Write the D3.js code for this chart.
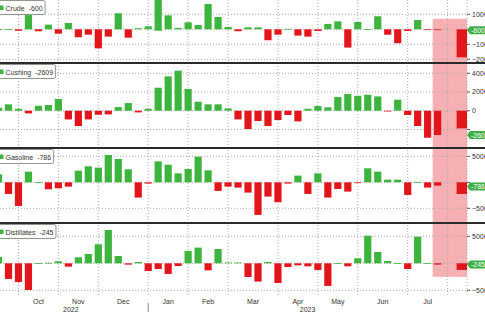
<!DOCTYPE html>
<html>
<head>
<meta charset="utf-8">
<script src="https://cdn.jsdelivr.net/npm/d3@7"></script>
<style>
body { margin: 0; background: #fff; }
svg { display: block; font-family: "Liberation Sans Narrow", "Arial Narrow", "Liberation Sans", Arial, sans-serif; }
</style>
</head>
<body>
<svg width="485" height="312"></svg>
<script>
// weekly changes (week ending Friday), first week partly off the left edge
const weeks = d3.timeFriday.range(new Date(2022, 8, 23), new Date(2023, 7, 12));

const crude = [100, 100, -1000, 9500, -1300, 3100, -2900, 4200, -5300, -3600, -12700, -4900, 10700, -5600, 700, 2000,
  20500, 9300, 900, 4700, 2900, 16900, 8200, 1600, -1300, 1300, 1300, -7300, -3600, 300, -4200, -4900, -1100, 3600,
  5300, -12200, 4900, 200, 8700, -3600, -9300, -1100, 6200, -400, -300, null, -18700];
const cushing = [320, 680, 210, -290, 530, 610, 1250, -930, -1640, -930, -430, -390, 390, 820, -180, 210,
  2460, 3670, 4280, 2320, 960, 680, 680, 250, -930, -1960, -1100, -1640, -1000, -460, -1140, 210, 500, 360,
  1460, 1780, 1600, 1710, 1530, -60, 1180, -460, -1640, -2890, -2600, null, -1890];
const gasoline = [1540, -2240, -4550, 2050, 40, -1340, -1150, -830, 2240, 3070, 2820, 5250, 4480, 2500, -2940, -250,
  4030, 3390, 1730, 2560, 4930, 2300, -1660, -830, -1020, -1980, -6270, -2750, -3840, -250, 1280, -2240, 1730, -2940,
  -1280, -1790, -60, 2690, 2050, 510, 510, -2430, 40, -1020, -640, null, -2240];
const distillates = [1170, -2900, -3460, -4940, 30, 100, 370, -620, 1110, 1720, 3520, 6170, 1360, -250, 250, -1420,
  -1050, -1970, -490, 2280, 2900, -1300, 2650, 150, 150, -2530, -3390, 250, -3640, -680, -370, -560, -1230, -4190,
  60, -560, 930, 5120, 2100, 430, 40, -1050, 4930, 40, -250, null, -1230];

const names = ["Crude", "Cushing", "Gasoline", "Distillates"];
const lastValues = [-600, -2609, -786, -245];
const crudeTicks = [10000, 0, -10000, -20000];
const cushingTicks = [4000, 2000, 0, -2000];
const gasolineTicks = [5000, 0, -5000];
const distillatesTicks = [5000, 0, -5000];
const highlightFrom = 43.5; // index into weeks

const series = [crude, cushing, gasoline, distillates];
const tickSets = [crudeTicks, cushingTicks, gasolineTicks, distillatesTicks];

// layout
const plotR = 467;
const layout = [
  {top: 0, bottom: 62, domain: [-21800, 19530]},
  {top: 64, bottom: 147, domain: [-3880, 4995]},
  {top: 149, bottom: 222, domain: [-7635, 6404]},
  {top: 224, bottom: 294, domain: [-5685, 7278]}
];
const green = "#3db43d", red = "#e2151b";

const svg = d3.select("svg");
svg.append("rect").attr("width", 485).attr("height", 312).attr("fill", "#fff");

const x = d3.scaleLinear().domain([0, weeks.length - 1]).range([-1.5, 457.6]);
const bw = 7.2;

const ys = layout.map(p => d3.scaleLinear().domain(p.domain).range([p.bottom, p.top]));

svg.append("defs").append("clipPath").attr("id", "clip")
  .append("rect").attr("x", 0).attr("y", 0).attr("width", plotR).attr("height", 312);

// highlight band
svg.append("rect")
  .attr("x", x(highlightFrom))
  .attr("y", ys[0](7000))
  .attr("width", plotR - x(highlightFrom))
  .attr("height", ys[3](-2500) - ys[0](7000))
  .attr("fill", "#f6afb3");

// month starts
const monthStarts = [];
weeks.forEach((d, i) => {
  if (i > 0 && d.getMonth() !== weeks[i - 1].getMonth()) monthStarts.push(i);
});

const grid = svg.append("g").attr("stroke", "#aaa").attr("stroke-dasharray", "1,2");
grid.selectAll("line.v").data(monthStarts).join("line")
  .attr("x1", d => x(d)).attr("x2", d => x(d))
  .attr("y1", 0).attr("y2", 297);
grid.append("line").attr("x1", plotR).attr("x2", plotR).attr("y1", 0).attr("y2", 297);

layout.forEach((p, k) => {
  const y = ys[k];
  grid.selectAll(null).data(tickSets[k]).join("line")
    .attr("x1", 0).attr("x2", plotR)
    .attr("y1", d => y(d)).attr("y2", d => y(d));
});

// bars
layout.forEach((p, k) => {
  const y = ys[k];
  const vals = series[k];
  const last = vals.length - 1;
  const g = svg.append("g").attr("clip-path", "url(#clip)");
  g.selectAll("rect").data(vals.map((v, i) => ({v, i})).filter(d => d.v !== null)).join("rect")
    .attr("x", d => d.i === last ? x(d.i) - 1 : x(d.i) - bw / 2)
    .attr("width", d => d.i === last ? plotR - x(d.i) + 1 : bw)
    .attr("y", d => Math.max(p.top, Math.min(y(d.v), y(0))))
    .attr("height", d => Math.max(0.8, Math.abs(y(d.v) - y(0))))
    .attr("fill", d => d.v >= 0 ? green : red);
});

// panel separators
layout.slice(0, 3).forEach((p, k) => {
  const yy = (p.bottom + layout[k + 1].top) / 2;
  svg.append("line").attr("x1", 0).attr("x2", 485).attr("y1", yy).attr("y2", yy)
    .attr("stroke", "#2a2a2a").attr("stroke-width", 2.2);
});

// right axes
layout.forEach((p, k) => {
  const y = ys[k];
  const ty = y(lastValues[k]);
  const ax = svg.append("g");
  ax.selectAll("line").data(tickSets[k]).join("line")
    .attr("x1", plotR).attr("x2", plotR + 3)
    .attr("y1", d => y(d)).attr("y2", d => y(d))
    .attr("stroke", "#555");
  // labels hidden behind the last-value tag are left out
  ax.selectAll("text").data(tickSets[k].filter(d => Math.abs(y(d) - ty) > 7)).join("text")
    .attr("x", plotR + 5).attr("y", d => y(d)).attr("dy", "0.35em")
    .attr("font-size", 7).attr("fill", "#333")
    .text(d => d3.format("d")(d));

  // last value tag
  svg.append("path")
    .attr("d", `M${plotR},${ty} L${plotR + 3},${ty - 4} H490 V${ty + 4} H${plotR + 3} Z`)
    .attr("fill", "#3fae45");
  svg.append("text")
    .attr("x", plotR + 4).attr("y", ty).attr("dy", "0.35em")
    .attr("font-size", 7).attr("fill", "#fff")
    .text(lastValues[k]);
});

// legends
layout.forEach((p, k) => {
  const g = svg.append("g").attr("transform", `translate(0,${p.top + 0.5})`);
  const box = g.append("rect").attr("x", -3).attr("y", 0).attr("height", 14).attr("rx", 2)
    .attr("fill", "#fff").attr("stroke", "#777").attr("stroke-width", 0.8);
  g.append("rect").attr("x", -1).attr("y", 5).attr("width", 4.5).attr("height", 4.5).attr("fill", green);
  const t = g.append("text").attr("x", 5.5).attr("y", 10).attr("font-size", 7).attr("fill", "#333");
  t.append("tspan").text(names[k]);
  t.append("tspan").attr("dx", 4).text(lastValues[k]);
  box.attr("width", t.node().getComputedTextLength() + 15);
});

// x axis labels
const fmt = d3.timeFormat("%b");
const axisG = svg.append("g").attr("font-size", 7).attr("fill", "#333").attr("text-anchor", "middle");
monthStarts.slice(0, -1).forEach((s, j) => {
  axisG.append("text")
    .attr("x", (x(s) + x(monthStarts[j + 1])) / 2)
    .attr("y", 303.5)
    .text(fmt(weeks[s]));
});
const yearStart = monthStarts.find(i => weeks[i].getMonth() === 0);
axisG.append("text").attr("x", (x(-0.5) + x(yearStart)) / 2).attr("y", 311.5).text(weeks[0].getFullYear());
axisG.append("text").attr("x", (x(yearStart) + plotR) / 2).attr("y", 311.5).text(weeks[yearStart].getFullYear());
svg.append("line").attr("x1", x(yearStart)).attr("x2", x(yearStart)).attr("y1", 303).attr("y2", 312)
  .attr("stroke", "#666").attr("stroke-width", 0.8);
</script>
</body>
</html>
